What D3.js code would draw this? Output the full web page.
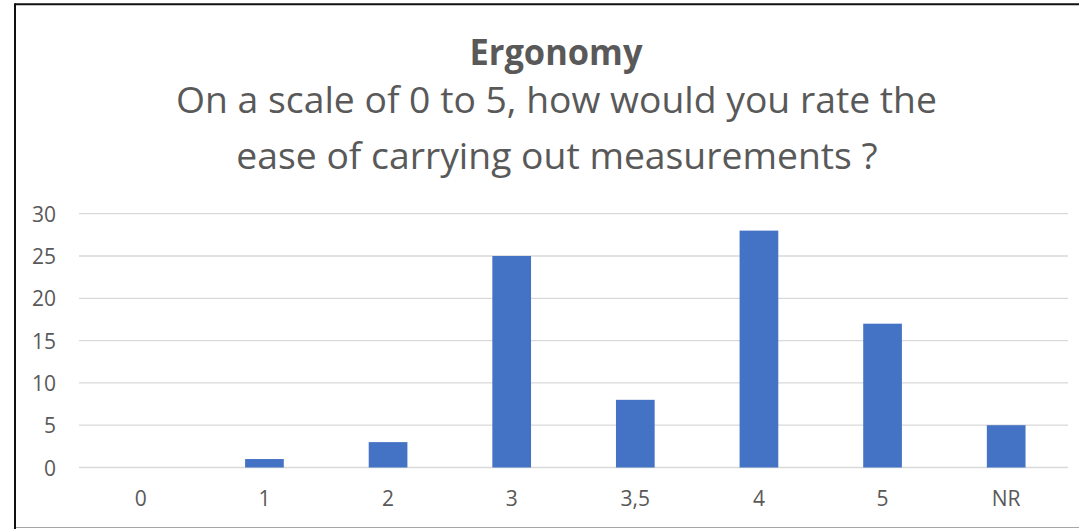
<!DOCTYPE html>
<html>
<head>
<meta charset="utf-8">
<script src="https://cdn.jsdelivr.net/npm/d3@7"></script>
<style>
  body { margin: 0; background: #fff; }
  text { font-family: "Open Sans", "Noto Sans", sans-serif; fill: #595959; }
</style>
</head>
<body>
<div id="chart"></div>
<script>
// Data
var categories = ["0", "1", "2", "3", "3,5", "4", "5", "NR"];
var counts = [0, 1, 3, 25, 8, 28, 17, 5];
var yTicks = [0, 5, 10, 15, 20, 25, 30];
var titleText = "Ergonomy";
var subtitleLines = ["On a scale of 0 to 5, how would you rate the", "ease of carrying out measurements ?"];

var svgWidth = 1079;
var svgHeight = 529;

// plot area in pixels
var plot = { left: 79, right: 1068, top: 213.7, bottom: 467.5 };

var svg = d3.select("#chart")
  .append("svg")
  .attr("width", svgWidth)
  .attr("height", svgHeight);

// outer frame (cropped on the right)
svg.append("line")
  .attr("x1", 15).attr("x2", svgWidth)
  .attr("y1", 4.3).attr("y2", 4.3)
  .attr("stroke", "#111").attr("stroke-width", 2);
svg.append("line")
  .attr("x1", 15).attr("x2", 15)
  .attr("y1", 3.3).attr("y2", svgHeight)
  .attr("stroke", "#111").attr("stroke-width", 2);
svg.append("line")
  .attr("x1", 16).attr("x2", svgWidth)
  .attr("y1", 527.5).attr("y2", 527.5)
  .attr("stroke", "#a6a6a6").attr("stroke-width", 1);

var xScale = d3.scaleBand()
  .domain(categories)
  .range([plot.left, plot.right])
  .paddingInner(0.687)
  .paddingOuter(0.687 / 2);

var xCenter = d3.scaleBand()
  .domain(categories)
  .range([plot.left, plot.right]);

var yScale = d3.scaleLinear()
  .domain([0, 30])
  .range([plot.bottom, plot.top]);

// gridlines
svg.append("g")
  .selectAll("line")
  .data(yTicks)
  .enter()
  .append("line")
  .attr("x1", plot.left)
  .attr("x2", plot.right)
  .attr("y1", d => yScale(d))
  .attr("y2", d => yScale(d))
  .attr("stroke", "#d9d9d9")
  .attr("stroke-width", 1.3);

// y axis labels
var leftAxis = d3.axisLeft(yScale).tickValues(yTicks).tickSize(0).tickPadding(0);
var yAxisG = svg.append("g")
  .attr("transform", "translate(56,0)")
  .call(leftAxis);
yAxisG.select(".domain").remove();
yAxisG.attr("font-family", null);
yAxisG.selectAll("text")
  .style("font-size", "21px")
  .attr("fill", "#595959")
  .attr("dy", "0.36em");

// x axis labels
var bottomAxis = d3.axisBottom(xCenter).tickSize(0).tickPadding(0);
var xAxisG = svg.append("g")
  .attr("transform", "translate(0,506)")
  .call(bottomAxis);
xAxisG.select(".domain").remove();
xAxisG.attr("font-family", null);
xAxisG.selectAll("text")
  .style("font-size", "21px")
  .attr("fill", "#595959")
  .attr("dy", "0");

// bars
svg.append("g")
  .selectAll("rect")
  .data(counts)
  .enter()
  .append("rect")
  .attr("x", (d, i) => xScale(categories[i]))
  .attr("y", d => yScale(d))
  .attr("width", xScale.bandwidth())
  .attr("height", d => yScale(0) - yScale(d))
  .attr("fill", "#4472c4");

// title, squeezed to the reference width
svg.append("text")
  .attr("x", 556)
  .attr("y", 65)
  .attr("text-anchor", "middle")
  .attr("textLength", 173)
  .attr("lengthAdjust", "spacingAndGlyphs")
  .style("font-weight", "bold")
  .style("font-size", "36px")
  .text(titleText);

// subtitle lines, font size fitted to the first line's width
var sub1 = svg.append("text")
  .attr("x", 556.5)
  .attr("y", 113)
  .attr("text-anchor", "middle")
  .style("font-size", "30px")
  .text(subtitleLines[0]);
var sw = sub1.node().getComputedTextLength();
var subSize = 30 * 761 / sw;
sub1.style("font-size", subSize + "px");

svg.append("text")
  .attr("x", 557)
  .attr("y", 169)
  .attr("text-anchor", "middle")
  .style("font-size", subSize + "px")
  .text(subtitleLines[1]);
</script>
</body>
</html>
